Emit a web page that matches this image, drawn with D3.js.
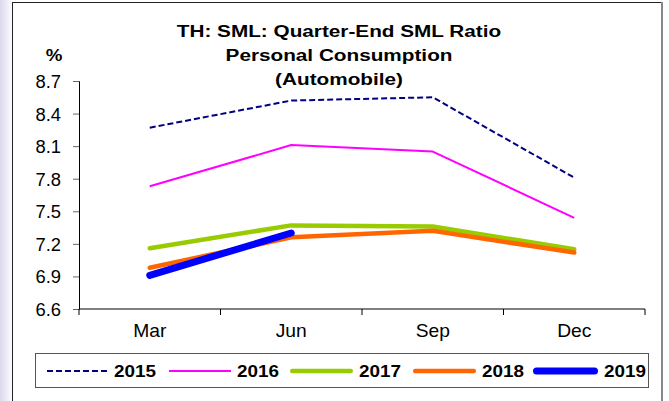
<!DOCTYPE html>
<html>
<head>
<meta charset="utf-8">
<script src="https://cdn.jsdelivr.net/npm/d3@7/dist/d3.min.js"></script>
<style>
  html, body { margin: 0; padding: 0; background: #fff; }
  svg { display: block; font-family: "Liberation Sans", Arial, sans-serif; }
</style>
</head>
<body>
<svg id="chart" width="669" height="401"></svg>
<script>
// Quarter-end SML ratio for automobile loans, by year
const quarters = ["Mar", "Jun", "Sep", "Dec"];
const years = ["2015", "2016", "2017", "2018", "2019"];
const values2015 = [8.27, 8.52, 8.55, 7.81];
const values2016 = [7.73, 8.11, 8.05, 7.44];
const values2017 = [7.16, 7.37, 7.36, 7.15];
const values2018 = [6.98, 7.26, 7.32, 7.12];
const values2019 = [6.91, 7.30];
const yTicks = [6.6, 6.9, 7.2, 7.5, 7.8, 8.1, 8.4, 8.7];
const titleLines = ["TH: SML: Quarter-End SML Ratio", "Personal Consumption", "(Automobile)"];

const seriesValues = [values2015, values2016, values2017, values2018, values2019];
const styles = [
  { color: "#000080", width: 2, dash: "6,3", cap: "butt" },
  { color: "#FF00FF", width: 2, dash: null, cap: "butt" },
  { color: "#99CC00", width: 4.5, dash: null, cap: "round" },
  { color: "#FF6600", width: 4.5, dash: null, cap: "round" },
  { color: "#0000FF", width: 7, dash: null, cap: "round" }
];

const svg = d3.select("#chart");

// soft lavender haze along the left page edge
const defs = svg.append("defs");
const grad = defs.append("linearGradient").attr("id", "edge").attr("x1", 0).attr("x2", 1);
grad.append("stop").attr("offset", 0).attr("stop-color", "#dcd8ec");
grad.append("stop").attr("offset", 1).attr("stop-color", "#ffffff");
svg.append("rect").attr("x", 0).attr("y", 0).attr("width", 13).attr("height", 401).attr("fill", "url(#edge)");

// chart frame
svg.append("rect").attr("x", 12.5).attr("y", 2.5).attr("width", 649).attr("height", 410)
  .attr("fill", "#fff").attr("stroke", "#222").attr("stroke-width", 1);
svg.append("line").attr("x1", 662).attr("x2", 662).attr("y1", 2).attr("y2", 401)
  .attr("stroke", "#888").attr("stroke-width", 2);

const plot = { left: 79, right: 645, top: 81, bottom: 309 };

const x = d3.scaleBand().domain(quarters).range([plot.left, plot.right]);
const y = d3.scaleLinear().domain([6.6, 8.7]).range([plot.bottom, plot.top]);

// text helper: places a horizontally widened label at (data-x, data-y)
function wide(sel, sx) {
  return sel.attr("transform", function () {
    const tx = +d3.select(this).attr("data-x");
    const ty = +d3.select(this).attr("data-y");
    return `translate(${tx},${ty}) scale(${sx},1)`;
  });
}

// title
svg.append("g").selectAll("text").data(titleLines).join("text")
  .attr("data-x", 339).attr("data-y", (d, i) => 37 + i * 24)
  .attr("text-anchor", "middle").attr("font-weight", "bold").attr("font-size", 17)
  .attr("fill", "#000").text(d => d)
  .call(wide, 1.22);

svg.append("text").attr("data-x", 54).attr("data-y", 61).attr("text-anchor", "middle")
  .attr("font-weight", "bold").attr("font-size", 17).text("%")
  .call(wide, 1.1);

// y axis
const yAxis = svg.append("g").attr("transform", `translate(${plot.left},0)`)
  .call(d3.axisLeft(y).tickValues(yTicks).tickFormat(d3.format(".1f")).tickSize(6));
yAxis.select(".domain").attr("stroke", "#000");
yAxis.selectAll(".tick line").attr("stroke", "#666");
yAxis.selectAll(".tick text")
  .attr("x", 0).attr("dy", null)
  .attr("font-size", 18).attr("fill", "#000")
  .attr("font-family", "Liberation Sans, Arial, sans-serif")
  .attr("transform", "translate(-18,6.5) scale(1.02,1)");

// x axis: ticks at category boundaries, labels centred in each band
const xAxis = svg.append("g").attr("transform", `translate(0,${plot.bottom})`);
xAxis.append("line").attr("x1", plot.left).attr("x2", plot.right).attr("stroke", "#000");
const bounds = quarters.map(q => x(q)).concat([x(quarters[quarters.length - 1]) + x.bandwidth()]);
xAxis.selectAll("line.tk").data(bounds).join("line").attr("class", "tk")
  .attr("x1", d => d).attr("x2", d => d).attr("y1", 0).attr("y2", 6).attr("stroke", "#000");
xAxis.selectAll("text").data(quarters).join("text")
  .attr("data-x", d => x(d) + x.bandwidth() / 2).attr("data-y", 28)
  .attr("text-anchor", "middle").attr("font-size", 17.5).attr("fill", "#000").text(d => d)
  .call(wide, 1.1);

// series lines
const line = d3.line()
  .x((d, i) => x(quarters[i]) + x.bandwidth() / 2)
  .y(d => y(d));

svg.append("g").selectAll("path").data(seriesValues).join("path")
  .attr("d", d => line(d))
  .attr("fill", "none")
  .attr("stroke", (d, i) => styles[i].color)
  .attr("stroke-width", (d, i) => styles[i].width)
  .attr("stroke-dasharray", (d, i) => styles[i].dash)
  .attr("stroke-linecap", (d, i) => styles[i].cap)
  .attr("stroke-linejoin", "round");

// legend
const legend = svg.append("g");
legend.append("rect").attr("x", 35.5).attr("y", 353.5).attr("width", 613).attr("height", 34)
  .attr("fill", "#fff").attr("stroke", "#555").attr("stroke-width", 1);
const legendLineX = [47, 169, 290, 413, 533];
const legendLineLen = [61, 62, 63, 63, 65];
const items = legend.selectAll("g.item").data(years).join("g").attr("class", "item")
  .attr("transform", (d, i) => `translate(${legendLineX[i]},371)`);
items.append("line")
  .attr("x1", (d, i) => styles[i].cap === "round" ? styles[i].width / 2 : 0)
  .attr("x2", (d, i) => legendLineLen[i] - (styles[i].cap === "round" ? styles[i].width / 2 : 0))
  .attr("y1", 0).attr("y2", 0)
  .attr("stroke", (d, i) => styles[i].color)
  .attr("stroke-width", (d, i) => styles[i].width)
  .attr("stroke-dasharray", (d, i) => styles[i].dash)
  .attr("stroke-linecap", (d, i) => styles[i].cap);
items.append("text")
  .attr("data-x", (d, i) => legendLineLen[i] + 6).attr("data-y", 6)
  .attr("font-weight", "bold").attr("font-size", 17).attr("fill", "#000").text(d => d)
  .call(wide, 1.11);
</script>
</body>
</html>
